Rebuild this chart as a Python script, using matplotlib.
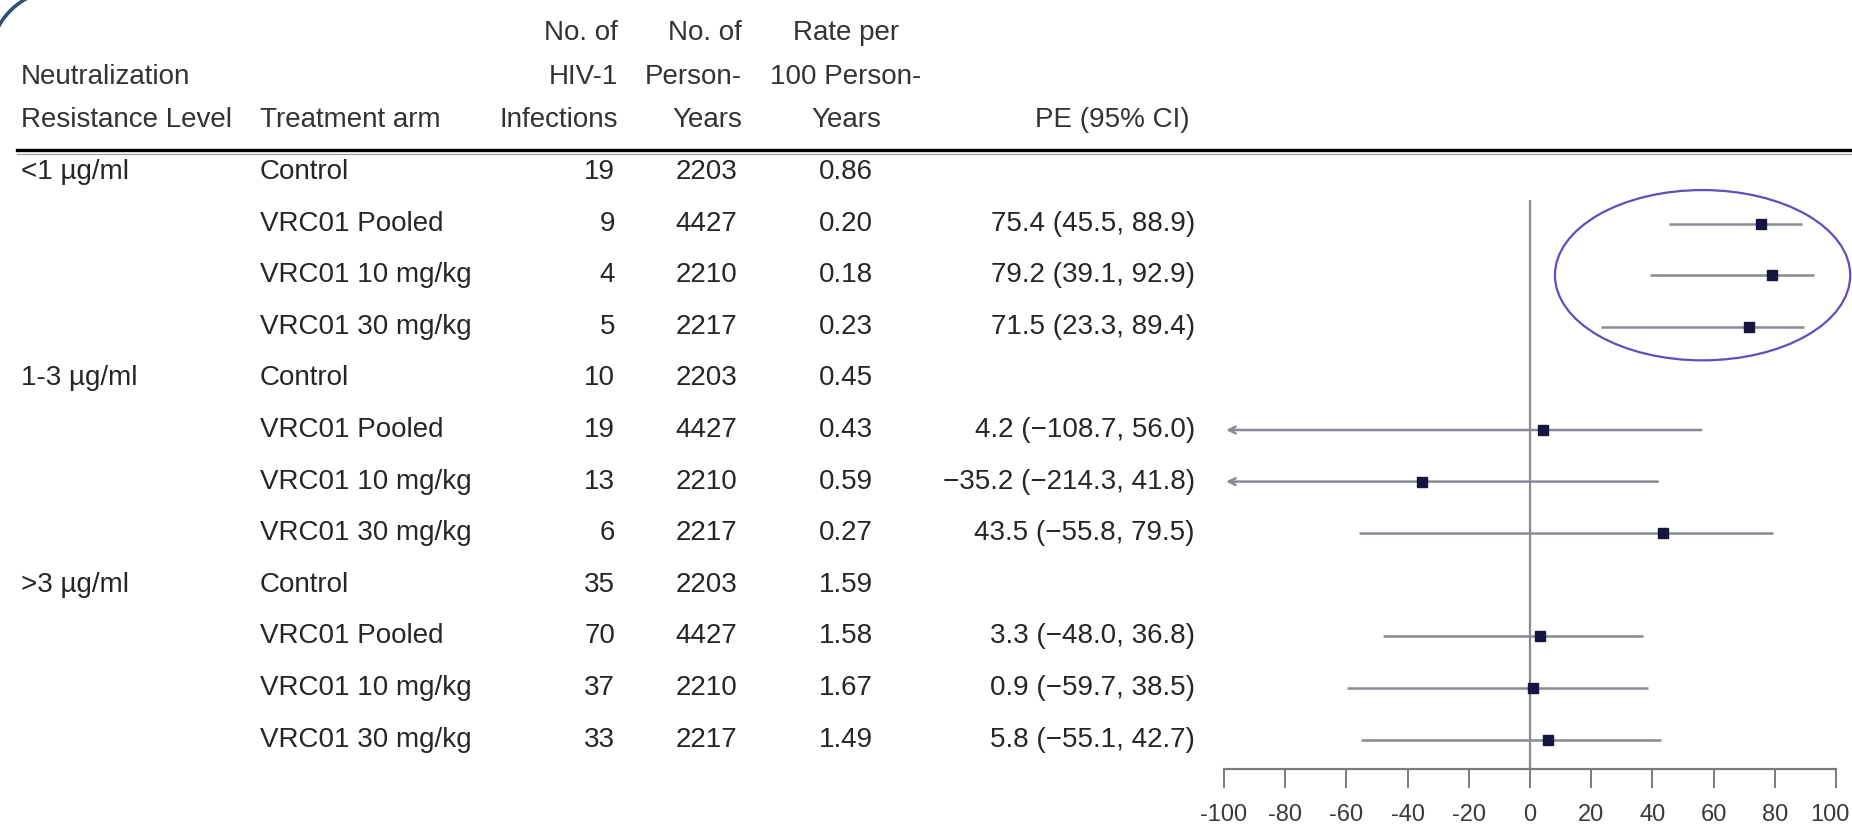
import matplotlib
matplotlib.use('Agg')
import matplotlib.pyplot as plt
from matplotlib import transforms
from matplotlib.lines import Line2D
from matplotlib.patches import Ellipse, Arc

plt.rcParams['font.family'] = ['Liberation Sans', 'DejaVu Sans']
plt.rcParams['axes.unicode_minus'] = False

# donnees du tableau
niveaux = ['<1 µg/ml', '1-3 µg/ml', '>3 µg/ml']
bras = ['Control', 'VRC01 Pooled', 'VRC01 10 mg/kg', 'VRC01 30 mg/kg']
infections = [19, 9, 4, 5, 10, 19, 13, 6, 35, 70, 37, 33]
personnes_annees = [2203, 4427, 2210, 2217, 2203, 4427, 2210, 2217,
                    2203, 4427, 2210, 2217]
taux = [0.86, 0.20, 0.18, 0.23, 0.45, 0.43, 0.59, 0.27,
        1.59, 1.58, 1.67, 1.49]
pe = [None, 75.4, 79.2, 71.5, None, 4.2, -35.2, 43.5, None, 3.3, 0.9, 5.8]
pe_bas = [None, 45.5, 39.1, 23.3, None, -108.7, -214.3, -55.8,
          None, -48.0, -59.7, -55.1]
pe_haut = [None, 88.9, 92.9, 89.4, None, 56.0, 41.8, 79.5,
           None, 36.8, 38.5, 42.7]
graduations = [-100, -80, -60, -40, -20, 0, 20, 40, 60, 80, 100]

W, H = 1852, 825
fig = plt.figure(figsize=(W / 100, H / 100), dpi=100)

# axe du forest plot
y_ligne0, pas = 172, 51.6
y_axe, y_regle = 769, 150
ax = fig.add_axes([1224 / W, 1 - y_axe / H, 612 / W, (y_axe - y_regle) / H])
xmin, xmax = graduations[0], graduations[-1]
ax.set_xlim(xmin, xmax)
ax.set_ylim((y_axe - y_ligne0) / pas, (y_regle - y_ligne0) / pas)

for s in ['top', 'right', 'left']:
    ax.spines[s].set_visible(False)
ax.spines['bottom'].set_color('#7a7a7a')
ax.spines['bottom'].set_linewidth(1.6)
ax.set_yticks([])
ax.set_xticks(graduations)
ax.set_xticklabels([str(g) for g in graduations], fontsize=17, color='#3a3a3a')
ax.tick_params(axis='x', direction='out', length=14, width=1.4,
               color='#7a7a7a', pad=11)
# le dernier libelle est colle au bord droit
dernier = ax.get_xticklabels()[-1]
dernier.set_transform(dernier.get_transform() +
                      transforms.ScaledTranslation(-0.06, 0, fig.dpi_scale_trans))

couleur_ic = '#8a8a94'
ax.vlines(0, 0.55, ax.get_ylim()[0], color='#8a8a94', lw=1.6)

for i, (p, b, h) in enumerate(zip(pe, pe_bas, pe_haut)):
    if p is None:
        continue
    if b < xmin:
        ax.annotate('', xy=(xmin + 0.7, i), xytext=(h, i),
                    arrowprops=dict(arrowstyle='->', color=couleur_ic,
                                    lw=1.8, mutation_scale=12,
                                    shrinkA=0, shrinkB=0))
    else:
        ax.hlines(i, b, h, color=couleur_ic, lw=1.8)
    ax.plot(p, i, marker='s', markersize=7.5, color='#15153f', zorder=3)

# ellipse autour du groupe <1 µg/ml
ax.add_patch(Ellipse((56.4, 2.0), 96.5, 3.3, fill=False,
                     edgecolor='#5a50be', lw=1.6, clip_on=False))

# texte du tableau
trans = transforms.blended_transform_factory(fig.transFigure, ax.transData)
corps = dict(fontsize=20, color='#262626', va='center', transform=trans)

for k, niv in enumerate(niveaux):
    ax.text(21 / W, 4 * k, niv, ha='left', **corps)

for i in range(len(infections)):
    ax.text(260 / W, i, bras[i % 4], ha='left', **corps)
    ax.text(615 / W, i, str(infections[i]), ha='right', **corps)
    ax.text(737 / W, i, str(personnes_annees[i]), ha='right', **corps)
    ax.text(846 / W, i, '%.2f' % taux[i], ha='center', **corps)
    if pe[i] is not None:
        txt = '%.1f (%.1f, %.1f)' % (pe[i], pe_bas[i], pe_haut[i])
        ax.text(1195 / W, i, txt.replace('-', '\u2212'), ha='right', **corps)

# en-tetes
entete = dict(fontsize=20, color='#333333', va='center')
lignes_y = [1 - 33 / H, 1 - 77 / H, 1 - 120 / H]
fig.text(21 / W, lignes_y[1], 'Neutralization', ha='left', **entete)
fig.text(21 / W, lignes_y[2], 'Resistance Level', ha='left', **entete)
fig.text(260 / W, lignes_y[2], 'Treatment arm', ha='left', **entete)
for y, t in zip(lignes_y, ['No. of', 'HIV-1', 'Infections']):
    fig.text(618 / W, y, t, ha='right', **entete)
for y, t in zip(lignes_y, ['No. of', 'Person-', 'Years']):
    fig.text(742 / W, y, t, ha='right', **entete)
for y, t in zip(lignes_y, ['Rate per', '100 Person-', 'Years']):
    fig.text(846 / W, y, t, ha='center', **entete)
fig.text(1190 / W, lignes_y[2], 'PE (95% CI)', ha='right', **entete)

# double filet sous les en-tetes
fig.add_artist(Line2D([17 / W, 1], [1 - y_regle / H] * 2, color='black', lw=2.4))
fig.add_artist(Line2D([17 / W, 1], [1 - (y_regle + 4) / H] * 2,
                      color='#9a9a9a', lw=0.8))

# coin arrondi du cadre en haut a gauche
fig.add_artist(Arc((0.6, (H - 60) / 100), 1.4, 1.4, theta1=90, theta2=180,
                   transform=fig.dpi_scale_trans, color='#2e4f7a', lw=2.6))

plt.savefig('out.png', dpi=100)
